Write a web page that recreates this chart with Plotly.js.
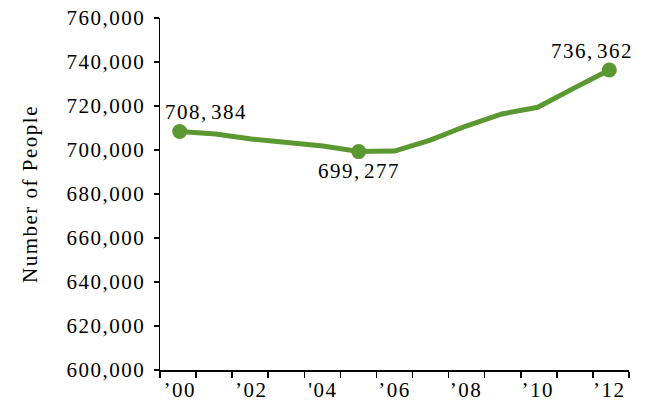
<!DOCTYPE html>
<html>
<head>
<meta charset="utf-8">
<script src="https://cdn.plot.ly/plotly-3.0.1.min.js"></script>
<style>
  html, body { margin: 0; padding: 0; background: #fff; }
  #chart { width: 646px; height: 403px; }
  #chart svg text { letter-spacing: 1.5px; }
</style>
</head>
<body>
<div id="chart"></div>
<script>
// ---- data ----
const years = [2000, 2001, 2002, 2003, 2004, 2005, 2006, 2007, 2008, 2009, 2010, 2011, 2012];
const people = [708384, 707300, 705000, 703300, 701800, 699277, 699500, 704500, 710900, 716400, 719400, 728000, 736362];
const markedYears = [2000, 2005, 2012];
const xTickYears = [2000, 2002, 2004, 2006, 2008, 2010, 2012];
const xTickLabels = ["\u201900", "\u201902", "'04", "\u201906", "\u201908", "\u201910", "\u201912"];
const yTitle = "Number of People";

// ---- styles ----
const green = "#5c9832";
const fontFamily = "Liberation Serif, Times New Roman, serif";
const xMin = 1999.45, xMax = 2012.55;

const markedVals = markedYears.map(y => people[years.indexOf(y)]);
const fmt = v => v.toLocaleString("en-US").replace(",", ",\u200A");

const traces = [
  {
    x: years, y: people, type: "scatter", mode: "lines",
    line: { color: green, width: 5 }, hoverinfo: "skip", showlegend: false
  },
  {
    x: markedYears, y: markedVals, type: "scatter", mode: "markers",
    marker: { color: green, size: 15 }, hoverinfo: "skip", showlegend: false
  }
];

const annStyle = [
  { xanchor: "left", xshift: -11, yshift: 20 },
  { xanchor: "center", xshift: 0, yshift: -19 },
  { xanchor: "right", xshift: 20, yshift: 19 }
];

const annotations = markedYears.map((yr, i) => Object.assign({
  x: yr, y: markedVals[i], xref: "x", yref: "y",
  text: fmt(markedVals[i]), showarrow: false, yanchor: "middle",
  font: { family: fontFamily, size: 21, color: "#000" }
}, annStyle[i]));

const layout = {
  width: 646, height: 403,
  margin: { l: 160, r: 17, t: 18, b: 33 },
  paper_bgcolor: "#fff", plot_bgcolor: "#fff",
  font: { family: fontFamily, size: 21, color: "#000" },
  showlegend: false,
  xaxis: {
    range: [xMin, xMax], fixedrange: true,
    showline: true, linecolor: "#000", linewidth: 1.5,
    showgrid: false, zeroline: false,
    tickmode: "array", tickvals: xTickYears, ticktext: xTickLabels,
    ticks: "",
    minor: { ticks: "outside", tick0: xMin, dtick: (xMax - xMin) / 13, ticklen: 6, tickwidth: 1.5, tickcolor: "#000", showgrid: false },
    tickfont: { family: fontFamily, size: 21, color: "#000" }
  },
  yaxis: {
    range: [600000, 760000], fixedrange: true,
    tickmode: "linear", tick0: 600000, dtick: 20000, tickformat: ",d",
    showline: true, linecolor: "#000", linewidth: 1.5,
    showgrid: false, zeroline: false,
    ticks: "outside", ticklen: 5, tickwidth: 1.5, tickcolor: "#000",
    ticklabelstandoff: 4,
    tickfont: { family: fontFamily, size: 21, color: "#000" },
    title: { text: yTitle, font: { family: fontFamily, size: 21, color: "#000" }, standoff: 33 }
  },
  annotations: annotations
};

Plotly.newPlot("chart", traces, layout, { displayModeBar: false, staticPlot: true });
</script>
</body>
</html>
